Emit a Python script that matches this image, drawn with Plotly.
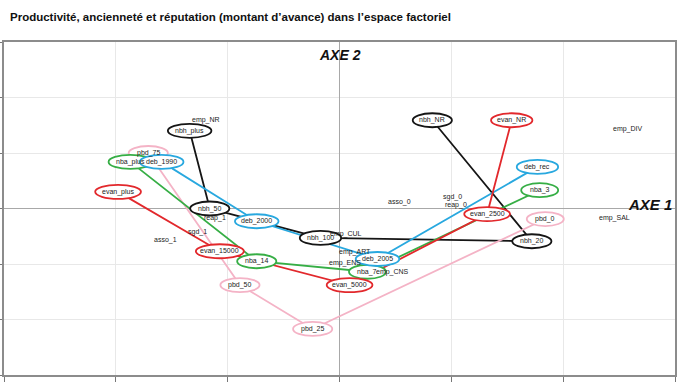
import plotly.graph_objects as go

TITLE = "Productivité, ancienneté et réputation (montant d’avance) dans l’espace factoriel"

# Series of modalities (ellipse-labelled), in line order
nbh_labels = ["nbh_NR", "nbh_20", "nbh_100", "nbh_50", "nbh_plus"]
nbh_x = [0.83, 1.72, -0.17, -1.16, -1.34]
nbh_y = [1.59, -0.59, -0.53, 0.00, 1.40]

evan_labels = ["evan_NR", "evan_2500", "evan_5000", "evan_15000", "evan_plus"]
evan_x = [1.54, 1.32, 0.09, -1.07, -1.98]
evan_y = [1.59, -0.10, -1.38, -0.77, 0.30]

nba_labels = ["nba_3", "nba_7", "nba_14", "nba_plus"]
nba_x = [1.79, 0.25, -0.74, -1.87]
nba_y = [0.33, -1.14, -0.95, 0.84]

deb_labels = ["deb_rec", "deb_2005", "deb_2000", "deb_1990"]
deb_x = [1.77, 0.34, -0.74, -1.59]
deb_y = [0.75, -0.91, -0.23, 0.84]

pbd_labels = ["pbd_0", "pbd_25", "pbd_50", "pbd_75"]
pbd_x = [1.84, -0.24, -0.89, -1.71]
pbd_y = [-0.19, -2.17, -1.38, 1.00]

# Supplementary modalities (text only)
sup_labels = ["emp_NR", "emp_DIV", "emp_SAL", "asso_0", "sgd_0", "reap_0",
              "asso_1", "sgd_1", "reap_1", "emp_CUL", "emp_ART", "emp_ENS", "emp_CNS"]
sup_x = [-1.19, 2.58, 2.46, 0.54, 1.01, 1.04, -1.56, -1.27, -1.11, 0.06, 0.14, 0.05, 0.47]
sup_y = [1.59, 1.43, -0.17, 0.12, 0.21, 0.06, -0.57, -0.42, -0.17, -0.46, -0.78, -0.98, -1.14]

series = [
    (nbh_labels, nbh_x, nbh_y, "#151515"),
    (pbd_labels, pbd_x, pbd_y, "#f4b3c6"),
    (nba_labels, nba_x, nba_y, "#36ae45"),
    (deb_labels, deb_x, deb_y, "#28a8df"),
    (evan_labels, evan_x, evan_y, "#e2282c"),
]

W, H = 680, 383
ML, MR, MT, MB = 4, 5, 42, 8
PX_X = (W - ML - MR) / 6.0  # pixels per x unit
PX_Y = (H - MT - MB) / 6.0  # pixels per y unit

fig = go.Figure()
shapes = []
annotations = []

for labels, xs, ys, col in series:
    fig.add_trace(go.Scatter(x=xs, y=ys, mode="lines",
                             line=dict(color=col, width=1.8), hoverinfo="skip",
                             showlegend=False))

for labels, xs, ys, col in series:
    for lab, x, y in zip(labels, xs, ys):
        w = (26 + 2.2 * len(lab)) / PX_X
        h = 14 / PX_Y
        shapes.append(dict(type="circle", xref="x", yref="y",
                           x0=x - w / 2, x1=x + w / 2, y0=y - h / 2, y1=y + h / 2,
                           line=dict(color=col, width=1.8), fillcolor="white",
                           layer="above"))
        annotations.append(dict(x=x, y=y, xref="x", yref="y", text=lab,
                                showarrow=False,
                                font=dict(family="Arial", size=7, color="#222")))

for lab, x, y in zip(sup_labels, sup_x, sup_y):
    annotations.append(dict(x=x, y=y, xref="x", yref="y", text=lab, showarrow=False,
                            font=dict(family="Arial", size=7, color="#222")))

annotations.append(dict(x=0, y=2.77, xref="x", yref="y", text="<b><i>AXE 2</i></b>",
                        showarrow=False, font=dict(family="Arial", size=14, color="#111")))
annotations.append(dict(x=2.99, y=0.08, xref="x", yref="y", text="<b><i>AXE 1</i></b>",
                        showarrow=False, xanchor="right",
                        font=dict(family="Arial", size=15, color="#111")))
# title placed in paper coords converted from pixels
annotations.append(dict(x=(8 - ML) / (W - ML - MR), y=(H - MB - 17) / (H - MT - MB),
                        xref="paper", yref="paper", text="<b>" + TITLE + "</b>",
                        showarrow=False, xanchor="left", yanchor="middle",
                        font=dict(family="Arial", size=11.5, color="#111")))

axis_common = dict(range=[-3, 3], dtick=1, tick0=0, showgrid=True,
                   gridcolor="#e8e8e8", gridwidth=1, zeroline=True,
                   zerolinecolor="#a8a8a8", zerolinewidth=1,
                   showline=True, linecolor="#8c8c8c", linewidth=1.5, mirror=True,
                   ticks="outside", ticklen=5, tickcolor="#777",
                   showticklabels=False, fixedrange=True, automargin=False)

fig.update_layout(
    width=W, height=H,
    margin=dict(l=ML, r=MR, t=MT, b=MB, autoexpand=False),
    paper_bgcolor="white", plot_bgcolor="white",
    xaxis=axis_common, yaxis=axis_common,
    shapes=shapes, annotations=annotations,
)

fig.write_html("out.html", config={"displayModeBar": False},
               post_script="document.body.style.margin='0';document.body.style.overflow='hidden';")
